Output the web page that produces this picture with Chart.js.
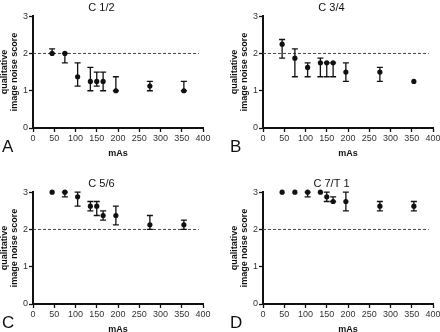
<!DOCTYPE html>
<html>
<head>
<meta charset="utf-8">
<script src="https://cdn.jsdelivr.net/npm/chart.js@4"></script>
<style>
  html, body { margin: 0; padding: 0; background: #fff; overflow: hidden; }
  body { width: 440px; height: 332px; position: relative; font-family: 'Liberation Sans', Arial, sans-serif; }
  .panel { position: absolute; width: 220px; height: 166px; }
  .panel canvas { position: absolute; left: 0; top: 0; }
  .letter { position: absolute; top: 138px; font-size: 17px; line-height: 17px; color: #111; }
</style>
</head>
<body>
<div class="panel" style="left:0;top:0"><canvas id="chartA" width="220" height="166"></canvas><div class="letter" style="left:2px">A</div></div>
<div class="panel" style="left:230px;top:0"><canvas id="chartB" width="220" height="166"></canvas><div class="letter" style="left:0">B</div></div>
<div class="panel" style="left:0;top:176px"><canvas id="chartC" width="220" height="166"></canvas><div class="letter" style="left:2px">C</div></div>
<div class="panel" style="left:230px;top:176px"><canvas id="chartD" width="220" height="166"></canvas><div class="letter" style="left:0">D</div></div>
<script>
// mAs levels
const xValues = [45, 75, 105, 135, 150, 165, 195, 275, 355];
const xTickValues = [0, 50, 100, 150, 200, 250, 300, 350, 400];
const yTickValues = [0, 1, 2, 3];
const referenceScore = 2;

// median score with low / high ends of the error bar
const c12Median = [2, 2, 1.375, 1.25, 1.25, 1.25, 1, 1.125, 1];
const c12Low = [2, 1.75, 1.125, 1, 1.125, 1, 1, 1, 1];
const c12High = [2.125, 2, 1.75, 1.625, 1.5, 1.5, 1.375, 1.25, 1.25];

const c34Median = [2.25, 1.875, 1.625, 1.75, 1.75, 1.75, 1.5, 1.5, 1.25];
const c34Low = [1.875, 1.375, 1.375, 1.375, 1.375, 1.375, 1.25, 1.25, 1.25];
const c34High = [2.375, 2.125, 1.75, 1.875, 1.75, 1.75, 1.75, 1.625, 1.25];

const c56Median = [3, 3, 2.875, 2.625, 2.625, 2.375, 2.375, 2.125, 2.125];
const c56Low = [3, 2.875, 2.625, 2.5, 2.375, 2.25, 2.125, 2, 2];
const c56High = [3, 3, 3, 2.75, 2.75, 2.5, 2.625, 2.375, 2.25];

const c7t1Median = [3, 3, 3, 3, 2.875, 2.75, 2.75, 2.625, 2.625];
const c7t1Low = [3, 3, 2.875, 3, 2.75, 2.75, 2.5, 2.5, 2.5];
const c7t1High = [3, 3, 3, 3, 3, 2.875, 3, 2.75, 2.75];

const FONT = "'Liberation Sans', Arial, sans-serif";
const INK = '#111';

const errorBars = {
  id: 'errorBars',
  afterDatasetsDraw(chart, args, opts) {
    const { ctx, scales: { x, y } } = chart;
    ctx.save();
    ctx.strokeStyle = INK;
    ctx.lineWidth = 1.3;
    opts.low.forEach((lo, i) => {
      const hi = opts.high[i];
      if (lo === hi) return;
      const px = x.getPixelForValue(xValues[i]);
      const top = y.getPixelForValue(hi);
      const bot = y.getPixelForValue(lo);
      ctx.beginPath();
      ctx.moveTo(px, top); ctx.lineTo(px, bot);
      ctx.moveTo(px - 3, top); ctx.lineTo(px + 3, top);
      ctx.moveTo(px - 3, bot); ctx.lineTo(px + 3, bot);
      ctx.stroke();
    });
    ctx.restore();
  }
};

function makePanel(id, title, median, low, high) {
  new Chart(document.getElementById(id), {
    type: 'scatter',
    data: {
      datasets: [
        {
          data: xValues.map((v, i) => ({ x: v, y: median[i] })),
          backgroundColor: INK,
          borderWidth: 0,
          pointRadius: 2.6,
          clip: false,
          order: 0
        },
        {
          data: [{ x: 0, y: referenceScore }, { x: 390, y: referenceScore }],
          showLine: true,
          borderColor: '#444',
          borderWidth: 1,
          borderDash: [3, 2],
          pointRadius: 0,
          order: 1
        }
      ]
    },
    options: {
      responsive: false,
      animation: false,
      layout: { padding: { left: 0, right: 17, top: 0, bottom: 0 } },
      plugins: {
        legend: { display: false },
        tooltip: { enabled: false },
        title: {
          display: true, text: title, color: INK,
          font: { family: FONT, size: 11, weight: 'normal' },
          padding: { top: 1, bottom: 2 }
        },
        errorBars: { low, high }
      },
      scales: {
        x: {
          type: 'linear', min: 0, max: 400,
          afterBuildTicks: s => { s.ticks = xTickValues.map(v => ({ value: v })); },
          afterFit: s => { s.height = 38; },
          ticks: { font: { family: FONT, size: 9 }, color: '#333', padding: 1, maxRotation: 0, autoSkip: false },
          grid: { drawOnChartArea: false, tickLength: 4, color: INK, tickWidth: 1.3 },
          border: { color: INK, width: 2 },
          title: { display: true, text: 'mAs', color: INK, font: { family: FONT, size: 9, weight: 'bold' }, padding: { top: 4, bottom: 7 } }
        },
        y: {
          type: 'linear', min: 0, max: 3,
          afterBuildTicks: s => { s.ticks = yTickValues.map(v => ({ value: v })); },
          afterFit: s => { s.width = 33; },
          ticks: { font: { family: FONT, size: 9 }, color: '#333', padding: 1 },
          grid: { drawOnChartArea: false, tickLength: 4, color: INK, tickWidth: 1.3 },
          border: { color: INK, width: 2 },
          title: { display: true, text: ['qualitative', 'image noise score'], color: INK, font: { family: FONT, size: 9, weight: 'bold', lineHeight: 1.05 }, padding: { top: 0, bottom: 0 } }
        }
      }
    },
    plugins: [errorBars]
  });
}

makePanel('chartA', 'C 1/2', c12Median, c12Low, c12High);
makePanel('chartB', 'C 3/4', c34Median, c34Low, c34High);
makePanel('chartC', 'C 5/6', c56Median, c56Low, c56High);
makePanel('chartD', 'C 7/T 1', c7t1Median, c7t1Low, c7t1High);
</script>
</body>
</html>
